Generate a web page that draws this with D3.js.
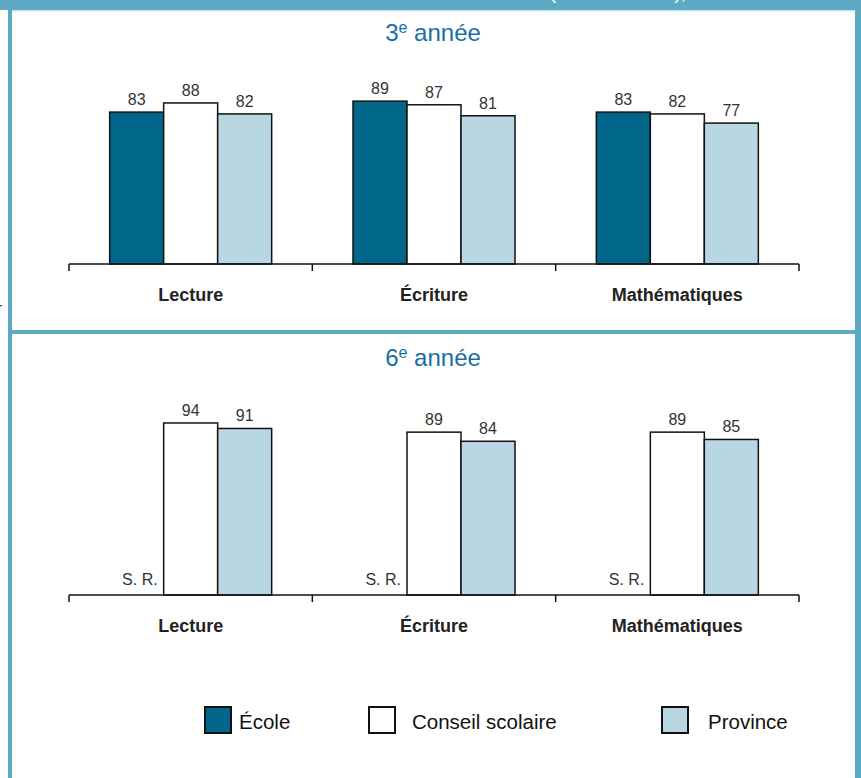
<!DOCTYPE html>
<html>
<head>
<meta charset="utf-8">
<script src="https://cdn.jsdelivr.net/npm/d3@7"></script>
<style>
  html, body { margin: 0; padding: 0; background: #fff; }
  svg { display: block; font-family: "Liberation Sans", Arial, sans-serif; }
</style>
</head>
<body>
<div id="chart"></div>
<script>
(function(){
  var width = 861,
      height = 778;

  // data
  var categories = ['Lecture', 'Écriture', 'Mathématiques'];
  var seriesNames = ['École', 'Conseil scolaire', 'Province'];
  var seriesColors = ['#00678a', '#ffffff', '#b9d7e2'];
  var ecole3 = [83, 89, 83];
  var conseil3 = [88, 87, 82];
  var province3 = [82, 81, 77];
  var ecole6 = [null, null, null];   // S. R.
  var conseil6 = [94, 89, 89];
  var province6 = [91, 84, 85];

  var panels = [
    { grade: '3', axisY: 264, titleY: 41, values: [ecole3, conseil3, province3] },
    { grade: '6', axisY: 595, titleY: 366, values: [ecole6, conseil6, province6] }
  ];

  var frameColor = '#5eaac4';

  var svg = d3.select('#chart')
    .append('svg')
    .attr('width', width)
    .attr('height', height);

  // frame
  svg.append('rect').attr('x', 0).attr('y', 0).attr('width', width).attr('height', 10).attr('fill', frameColor);
  svg.append('rect').attr('x', 12).attr('y', 10).attr('width', 843).attr('height', 1.5).attr('fill', '#c6e3ec');
  svg.append('text')
    .attr('x', 686).attr('y', -1)
    .attr('text-anchor', 'end')
    .attr('fill', '#fff')
    .attr('font-size', 19)
    .text('(niveaux 3 et 4),');
  svg.append('rect').attr('x', 8).attr('y', 0).attr('width', 4).attr('height', height).attr('fill', frameColor);
  svg.append('rect').attr('x', 855).attr('y', 0).attr('width', 6).attr('height', height).attr('fill', frameColor);
  svg.append('rect').attr('x', 8).attr('y', 330).attr('width', width - 8).attr('height', 4).attr('fill', frameColor);

  svg.append('text')
    .attr('x', -3).attr('y', 313)
    .attr('font-size', 15)
    .attr('fill', '#222')
    .text('r');

  var x0 = d3.scaleBand()
    .domain(categories)
    .range([69, 799]);

  var groupW = 162;
  var x1 = d3.scaleBand()
    .domain(seriesNames)
    .range([0, groupW]);
  var groupOffset = (x0.bandwidth() - groupW) / 2;

  panels.forEach(function(p){
    var y = d3.scaleLinear().domain([0, 100]).range([p.axisY, p.axisY - 183]);
    var g = svg.append('g');

    // title
    var t = g.append('text')
      .attr('x', 433)
      .attr('y', p.titleY)
      .attr('text-anchor', 'middle')
      .attr('fill', '#1a6ea5')
      .attr('font-size', 24);
    t.append('tspan').text(p.grade);
    t.append('tspan').attr('font-size', 16).attr('dy', -8).text('e');
    t.append('tspan').attr('dy', 8).text(' année');

    var rows = [];
    categories.forEach(function(c, i){
      seriesNames.forEach(function(s, j){
        rows.push({ cat: c, series: s, idx: j, value: p.values[j][i] });
      });
    });

    var barX = function(d){ return x0(d.cat) + groupOffset + x1(d.series); };

    g.selectAll('rect.bar')
      .data(rows.filter(function(d){ return d.value != null; }))
      .enter().append('rect')
      .attr('class', 'bar')
      .attr('x', barX)
      .attr('y', function(d){ return y(d.value); })
      .attr('width', x1.bandwidth())
      .attr('height', function(d){ return y(0) - y(d.value); })
      .attr('fill', function(d){ return seriesColors[d.idx]; })
      .attr('stroke', '#111')
      .attr('stroke-width', 1.5);

    g.selectAll('text.val')
      .data(rows)
      .enter().append('text')
      .attr('class', 'val')
      .attr('x', function(d){
        return d.value != null ? barX(d) + x1.bandwidth() / 2 : barX(d) + x1.bandwidth() - 6;
      })
      .attr('y', function(d){ return d.value != null ? y(d.value) - 7 : y(0) - 10; })
      .attr('text-anchor', function(d){ return d.value != null ? 'middle' : 'end'; })
      .attr('font-size', 16)
      .attr('fill', '#333')
      .text(function(d){ return d.value != null ? d.value : 'S. R.'; });

    // axis
    var axis = d3.axisBottom(x0).tickSize(7).tickFormat('');
    var ag = g.append('g')
      .attr('transform', 'translate(0,' + p.axisY + ')')
      .call(axis);
    ag.select('.domain').attr('d', 'M69,0H799').attr('stroke', '#111').attr('stroke-width', 1.5);
    ag.selectAll('.tick').remove();
    var tickXs = categories.map(function(c){ return x0(c); }).concat([x0.range()[1]]);
    ag.selectAll('line.tk')
      .data(tickXs)
      .enter().append('line')
      .attr('class', 'tk')
      .attr('x1', function(d){ return d; })
      .attr('x2', function(d){ return d; })
      .attr('y1', 0).attr('y2', 7)
      .attr('stroke', '#111')
      .attr('stroke-width', 1.5);

    g.selectAll('text.cat')
      .data(categories)
      .enter().append('text')
      .attr('class', 'cat')
      .attr('x', function(d){ return x0(d) + x0.bandwidth() / 2; })
      .attr('y', p.axisY + 37)
      .attr('text-anchor', 'middle')
      .attr('font-size', 18)
      .attr('font-weight', 'bold')
      .attr('fill', '#222')
      .text(function(d){ return d; });
  });

  // legend
  var legendSwatchX = [205, 369, 662];
  var legendTextX = [239, 412, 708];
  var legend = svg.append('g');
  seriesNames.forEach(function(s, i){
    legend.append('rect')
      .attr('x', legendSwatchX[i])
      .attr('y', 707)
      .attr('width', 26)
      .attr('height', 26)
      .attr('fill', seriesColors[i])
      .attr('stroke', '#111')
      .attr('stroke-width', 2);
    legend.append('text')
      .attr('x', legendTextX[i])
      .attr('y', 729)
      .attr('font-size', 20.5)
      .attr('fill', '#111')
      .text(s);
  });
})()
</script>
</body>
</html>
